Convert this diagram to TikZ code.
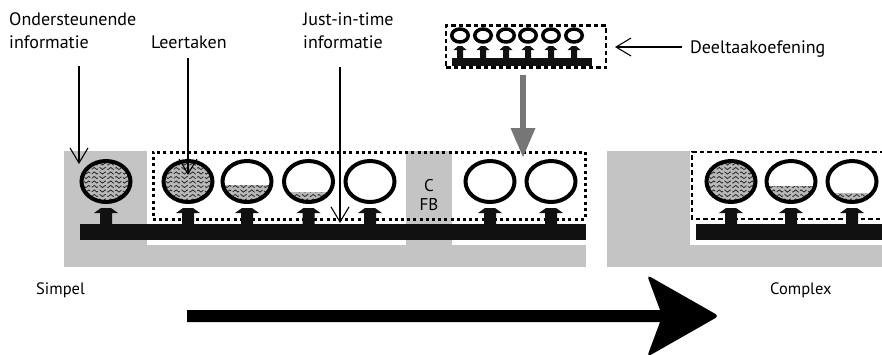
\documentclass[tikz,border=0pt]{standalone}
\usepackage{fontspec}
\setmainfont{PT Sans}
\usetikzlibrary{arrows.meta,decorations.pathmorphing,shapes.geometric}
\definecolor{bggray}{RGB}{196,196,196}
\definecolor{fillgray}{RGB}{185,185,185}
\definecolor{barblack}{RGB}{17,17,17}
\definecolor{arrowgray}{RGB}{118,118,118}
\tikzset{
  lbl/.style={inner sep=0pt, font=\fontsize{18}{22.5}\selectfont, align=left, anchor=base west},
  sublbl/.style={inner sep=0pt, font=\fontsize{16.5}{18}\selectfont, anchor=base west},
  cfb/.style={inner sep=0pt, font=\fontsize{17}{19}\selectfont, align=center},
  task/.style={ellipse, draw=black, line width=4pt, minimum width=49pt, minimum height=41pt, inner sep=0pt},
  subtask/.style={ellipse, draw=black, line width=3.5pt, minimum width=16.5pt, minimum height=13pt, inner sep=0pt},
  ptr/.style={line width=1.1pt, -{Straight Barb[length=15pt,width=18pt]}},
  wavy/.style={draw=black!85, line width=0.75pt, decorate, decoration={snake, amplitude=1.1pt, segment length=5.5pt}, dash pattern=on 8pt off 2pt},
  dotbox/.style={draw=black, line width=3pt, dash pattern=on 3pt off 3.2pt},
  dashbox/.style={draw=black, line width=2.2pt, dash pattern=on 4.5pt off 3pt},
  supp/.pic={\fill[barblack] (-12,-11) -- (-5,-16) -- (5,-16) -- (12,-11) -- (6,-11) -- (6,0.5) -- (-6,0.5) -- (-6,-11) -- cycle;},
  ssupp/.pic={\fill[barblack] (-6.5,-8) -- (-2,-12) -- (2,-12) -- (6.5,-8) -- (3,-8) -- (3,0.5) -- (-3,0.5) -- (-3,-8) -- cycle;}
}
\newcommand\wavefill[3]{%
  \begin{scope}
    \clip (#1,#2) ellipse [x radius=24.5pt, y radius=20.5pt];
    \fill[fillgray] (#1-30,#3) rectangle (#1+30,#2+25);
    \clip (#1-30,#3) rectangle (#1+30,#2+25);
    \foreach \k in {0,...,10} \draw[wavy] (#1-30,#2-22+4.5*\k) -- (#1+30,#2-22+4.5*\k);
  \end{scope}}
\begin{document}
\begin{tikzpicture}[x=1pt,y=-1pt]
\useasboundingbox (0,0) rectangle (882,354);
% gray backgrounds
\fill[bggray] (64,151) rectangle (147,267);
\fill[bggray] (147,245) rectangle (586,267);
\fill[bggray] (406,151) rectangle (452,245);
\fill[bggray] (607,151) rectangle (690,267);
\fill[bggray] (690,245) rectangle (882,267);
% timelines
\fill[barblack] (80,224) rectangle (586,240);
\fill[barblack] (696,224) rectangle (882,240);
% dotted boxes
\node[dotbox, minimum width=432pt, minimum height=67pt, inner sep=0pt] (mainbox) at (369,185.5) {};
\draw[dashbox] (884,152) -- (692,152) -- (692,219) -- (884,219);
% task fills
\wavefill{106}{181.5}{150}
\wavefill{188}{181.5}{150}
\wavefill{247}{181.5}{185}
\wavefill{308.5}{181.5}{192}
\wavefill{731}{181.5}{150}
\wavefill{791}{181.5}{186}
\wavefill{852}{181.5}{193}
% task circles
\foreach \n/\x in {t1/106, t2/188, t3/247, t4/308.5, t5/370, t6/490, t7/551, r1/731, r2/791, r3/852}{
  \node[task] (\n) at (\x,181.5) {};
  \pic at (\x,224) {supp};
}
% C FB
\node[cfb] (cfbtext) at (429,195.5) {C\\FB};
% part-task practice
\node[dashbox, minimum width=160pt, minimum height=42pt, inner sep=0pt] (deelbox) at (526,46.5) {};
\fill[barblack] (452,58) rectangle (592,66);
\foreach \x [count=\i] in {460,483,506,528,551,574}{
  \node[subtask] (s\i) at (\x,35.5) {};
  \pic at (\x,58) {ssupp};
}
% gray arrow
\coordinate (graytip) at (523,157);
\fill[arrowgray] ([xshift=-3pt,yshift=-6pt]deelbox.south -| graytip) rectangle ([xshift=3pt,yshift=27pt]graytip);
\fill[arrowgray] ([xshift=-12.5pt,yshift=29pt]graytip) -- ([xshift=12.5pt,yshift=29pt]graytip) -- (graytip) -- cycle;
% labels
\node[lbl] (ond) at (9,48) {Ondersteunende\\informatie};
\node[lbl] (leer) at (151,48) {Leertaken};
\node[lbl] (jit) at (303,48) {Just-in-time\\informatie};
\node[lbl] (deel) at (690,53) {Deeltaakoefening};
\node[sublbl] (simpel) at (36,294) {Simpel};
\node[sublbl] (complex) at (770,294) {Complex};
% pointers
\coordinate (ondstart) at (79,66);
\coordinate (ondtip) at (79,164);
\coordinate (leerstart) at (188,58);
\coordinate (leertip) at (188,175);
\coordinate (jitstart) at (340,67);
\coordinate (jittip) at (340,223);
\coordinate (deelstart) at (682,47);
\coordinate (deeltip) at (615,47);
\draw[ptr] (ondstart) -- (ondtip);
\draw[ptr] (leerstart) -- (leertip);
\draw[ptr] (jitstart) -- (jittip);
\draw[ptr] (deelstart) -- (deeltip);
% big arrow
\fill[black] (187,310) -- (660,310) [rounded corners=4pt] -- (647,275) -- (719,316) -- (647,357) [sharp corners] -- (660,322) -- (187,322) -- cycle;
\end{tikzpicture}
\end{document}
